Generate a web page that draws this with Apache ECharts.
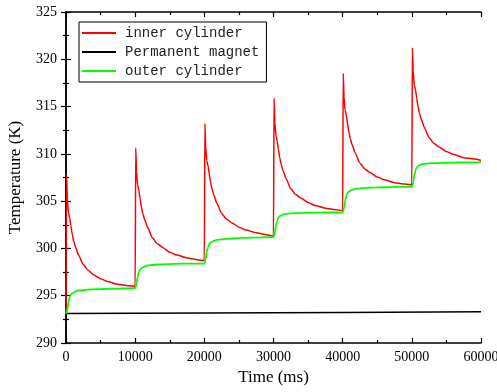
<!DOCTYPE html>
<html>
<head>
<meta charset="utf-8">
<script src="https://cdn.jsdelivr.net/npm/echarts@6/dist/echarts.min.js"></script>
<style>
  html, body { margin: 0; padding: 0; background: #fff; }
  #chart { width: 497px; height: 392px; }
</style>
</head>
<body>
<div id="chart"></div>
<script>
// time offsets (ms) inside each 10 s heating cycle
const cycleStarts = [0, 10000, 20000, 30000, 40000, 50000];
const cycleOffsets = [0, 80, 200, 350, 550, 700, 900, 1100, 1400, 1800, 2500, 3200, 4000, 5000, 6000, 7500, 9000];
const endTime = 60000;

// inner cylinder (K), one row per cycle, then the final value
const innerK = [
  293.1, 307.8, 305.2, 303.8, 303.2, 302.4, 301.5, 300.8, 300.1, 299.3, 298.3, 297.7, 297.2, 296.8, 296.5, 296.2, 296.05,
  296.0, 310.6, 308.1, 306.7, 306.1, 305.3, 304.4, 303.7, 303.0, 302.2, 301.1, 300.5, 300.1, 299.6, 299.3, 299.0, 298.8,
  298.7, 313.2, 310.7, 309.3, 308.7, 307.9, 307.0, 306.3, 305.6, 304.8, 303.7, 303.1, 302.7, 302.25, 301.95, 301.65, 301.45,
  301.3, 315.9, 313.3, 311.9, 311.3, 310.5, 309.6, 308.9, 308.2, 307.4, 306.3, 305.7, 305.3, 304.85, 304.55, 304.25, 304.1,
  304.0, 318.5, 316.0, 314.6, 314.0, 313.2, 312.3, 311.6, 310.9, 310.1, 309.0, 308.4, 308.0, 307.55, 307.25, 306.95, 306.8,
  306.7, 321.2, 318.7, 317.3, 316.7, 315.9, 315.0, 314.3, 313.6, 312.8, 311.7, 311.1, 310.7, 310.25, 309.95, 309.6, 309.45,
  309.3
];

// outer cylinder (K)
const outerK = [
  293.1, 293.2, 293.6, 294.3, 294.9, 295.1, 295.25, 295.35, 295.45, 295.55, 295.6, 295.65, 295.67, 295.7, 295.72, 295.75, 295.78,
  295.8, 295.9, 296.3, 297.0, 297.5, 297.75, 297.9, 298.0, 298.1, 298.2, 298.25, 298.3, 298.32, 298.35, 298.37, 298.4, 298.4,
  298.4, 298.5, 298.9, 299.6, 300.2, 300.45, 300.6, 300.7, 300.8, 300.9, 300.95, 301.0, 301.05, 301.1, 301.12, 301.15, 301.18,
  301.2, 301.3, 301.7, 302.4, 303.0, 303.25, 303.4, 303.5, 303.6, 303.65, 303.7, 303.72, 303.74, 303.76, 303.78, 303.8, 303.8,
  303.8, 303.9, 304.3, 305.0, 305.6, 305.85, 306.0, 306.1, 306.2, 306.3, 306.35, 306.4, 306.42, 306.45, 306.47, 306.5, 306.5,
  306.5, 306.6, 307.0, 307.7, 308.3, 308.55, 308.7, 308.8, 308.9, 308.95, 309.0, 309.02, 309.04, 309.06, 309.08, 309.1, 309.1,
  309.1
];

// permanent magnet (K)
const magnetTime = [0, 20000, 40000, 60000];
const magnetK = [293.12, 293.17, 293.23, 293.3];

const timeMs = [];
cycleStarts.forEach(s => cycleOffsets.forEach(o => timeMs.push(s + o)));
timeMs.push(endTime);

const pairs = (xs, ys) => xs.map((x, i) => [x, ys[i]]);

const chart = echarts.init(document.getElementById('chart'));

const serif = 'Liberation Serif';
const axisLine = { lineStyle: { color: '#000', width: 1.5 } };
const tick = { inside: true, length: 5, lineStyle: { color: '#000', width: 1.2 } };
const minor = { show: true, splitNumber: 2, length: 3, lineStyle: { color: '#000', width: 1.2 } };

const option = {
  animation: false,
  grid: { left: 66, right: 16, top: 12, bottom: 49, show: false, outerBoundsMode: 'none', containLabel: false },
  legend: {
    left: 79,
    top: 22,
    orient: 'vertical',
    icon: 'rect',
    itemWidth: 34,
    itemHeight: 2,
    itemGap: 5,
    padding: [4, 7, 4, 3],
    borderColor: '#000',
    borderWidth: 1,
    textStyle: { fontFamily: 'Liberation Mono', fontSize: 14, color: '#222', padding: [0, 0, 0, 4] }
  },
  xAxis: [{
    type: 'value',
    min: 0, max: 60000, interval: 10000,
    name: 'Time (ms)',
    nameLocation: 'middle',
    nameGap: 24,
    nameTextStyle: { fontFamily: serif, fontSize: 17, color: '#000' },
    axisLine: axisLine,
    axisTick: tick,
    minorTick: minor,
    axisLabel: { fontFamily: serif, fontSize: 14, color: '#000', margin: 7, formatter: v => String(v) },
    splitLine: { show: false }
  }, {
    type: 'value', position: 'top',
    min: 0, max: 60000, interval: 10000,
    axisLine: axisLine,
    axisTick: tick,
    minorTick: minor,
    axisLabel: { show: false },
    splitLine: { show: false }
  }],
  yAxis: [{
    type: 'value',
    min: 290, max: 325, interval: 5,
    name: 'Temperature (K)',
    nameLocation: 'middle',
    nameGap: 42,
    nameTextStyle: { fontFamily: serif, fontSize: 17, color: '#000' },
    axisLine: axisLine,
    axisTick: tick,
    minorTick: minor,
    axisLabel: { fontFamily: serif, fontSize: 14, color: '#000', margin: 9 },
    splitLine: { show: false }
  }, {
    type: 'value', position: 'right',
    min: 290, max: 325, interval: 5,
    axisLine: axisLine,
    axisTick: tick,
    minorTick: minor,
    axisLabel: { show: false },
    splitLine: { show: false }
  }],
  series: [
    {
      name: 'inner cylinder',
      type: 'line',
      symbol: 'none',
      smooth: 0.2,
      smoothMonotone: 'x',
      lineStyle: { color: '#ff0000', width: 1.5 },
      itemStyle: { color: '#ff0000' },
      data: pairs(timeMs, innerK)
    },
    {
      name: 'Permanent magnet',
      type: 'line',
      symbol: 'none',
      lineStyle: { color: '#000', width: 1.5 },
      itemStyle: { color: '#000' },
      data: pairs(magnetTime, magnetK)
    },
    {
      name: 'outer cylinder',
      type: 'line',
      symbol: 'none',
      smooth: 0.2,
      smoothMonotone: 'x',
      lineStyle: { color: '#00ff00', width: 1.8 },
      itemStyle: { color: '#00ff00' },
      data: pairs(timeMs, outerK)
    }
  ]
};

chart.setOption(option);
</script>
</body>
</html>
